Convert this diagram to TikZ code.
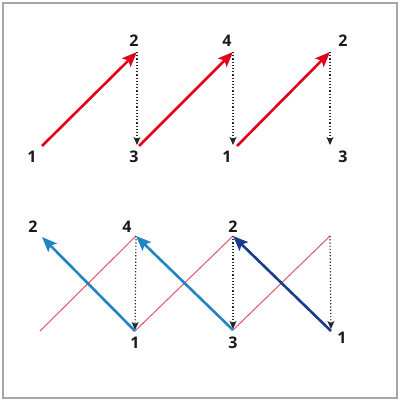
\documentclass[tikz,border=0pt]{standalone}
\usepackage{fontspec}
\setmainfont{Open Sans}
\usepackage{xcolor}
\usepackage{tikz}
\usetikzlibrary{arrows.meta}

\definecolor{zred}{HTML}{E2001A}
\definecolor{zpink}{HTML}{E06078}
\definecolor{zblue}{HTML}{2384C4}
\definecolor{zdark}{HTML}{1A3A8C}

\begin{document}
\begin{tikzpicture}[x=1pt, y=-1pt,
		num/.style={font=\fontsize{16}{16}\selectfont\bfseries, text=black!90, inner sep=0pt},
		redarrow/.style={zred, line width=2.6pt, -{Stealth[length=15pt, width=12pt, inset=3pt]}},
		bluearrow/.style={zblue, line width=2.6pt, -{Stealth[length=15pt, width=12pt, inset=3pt]}},
		darkarrow/.style={bluearrow, zdark},
		pinkline/.style={zpink, line width=1.1pt},
		dotarrow/.style={black!85, line width=1.2pt, dotted, -{Stealth[length=8pt, width=7pt, inset=2pt]}}]
		\useasboundingbox (0,0) rectangle (400,401);
		\draw [black!35, line width=1.4pt] (3,3) rectangle (397,398);
		
		% Top row
		\coordinate (p1) at (42,146);
		\coordinate (p2) at (137,52);
		\coordinate (p3) at (139,146);
		\coordinate (p4) at (233,52);
		\coordinate (p5) at (237,146);
		\coordinate (p6) at (330,52);
		\coordinate (p7) at (330,145);
		
		\node [num] (t1) at (32,157) {1};
		\node [num] (t2) at (134,41) {2};
		\node [num] (t3) at (134,157) {3};
		\node [num] (t4) at (227,41) {4};
		\node [num] (t5) at (227,157) {1};
		\node [num] (t6) at (343,41) {2};
		\node [num] (t7) at (343,157) {3};
		
		\draw [redarrow] (p1) -- (p2);
		\draw [redarrow] (p3) -- (p4);
		\draw [redarrow] (p5) -- (p6);
		\draw [dotarrow] (p2) -- (p2 |- p7);
		\draw [dotarrow] (p4) -- (p4 |- p7);
		\draw [dotarrow] (p6) -- (p7);
		
		% Bottom row
		\coordinate (q0) at (42,237);
		\coordinate (q1) at (40,331);
		\coordinate (q2) at (136,236);
		\coordinate (q3) at (135,331);
		\coordinate (q4) at (233,236);
		\coordinate (q5) at (233,330);
		\coordinate (q6) at (330,236);
		\coordinate (q7) at (331,331);
		
		\node [num] (b0) at (33,227) {2};
		\node [num] (b2) at (127,227) {4};
		\node [num] (b4) at (233,227) {2};
		\node [num] (b3) at (135,343) {1};
		\node [num] (b5) at (233,343) {3};
		\node [num] (b7) at (342,338) {1};
		
		\draw [pinkline] (q1) -- (q2);
		\draw [pinkline] (q3) -- (q4);
		\draw [pinkline] (q5) -- (q6);
		\draw [dotarrow, shorten >=1pt] (q2) -- (q3);
		\draw [dotarrow, shorten >=1pt] (q4) -- (q5);
		\draw [dotarrow, shorten >=2pt] (q6) -- (q7);
		\draw [bluearrow] (q3) -- (q0);
		\draw [bluearrow] (q5) -- (q2);
		\draw [darkarrow] (q7) -- (q4);
	\end{tikzpicture}
\end{document}
